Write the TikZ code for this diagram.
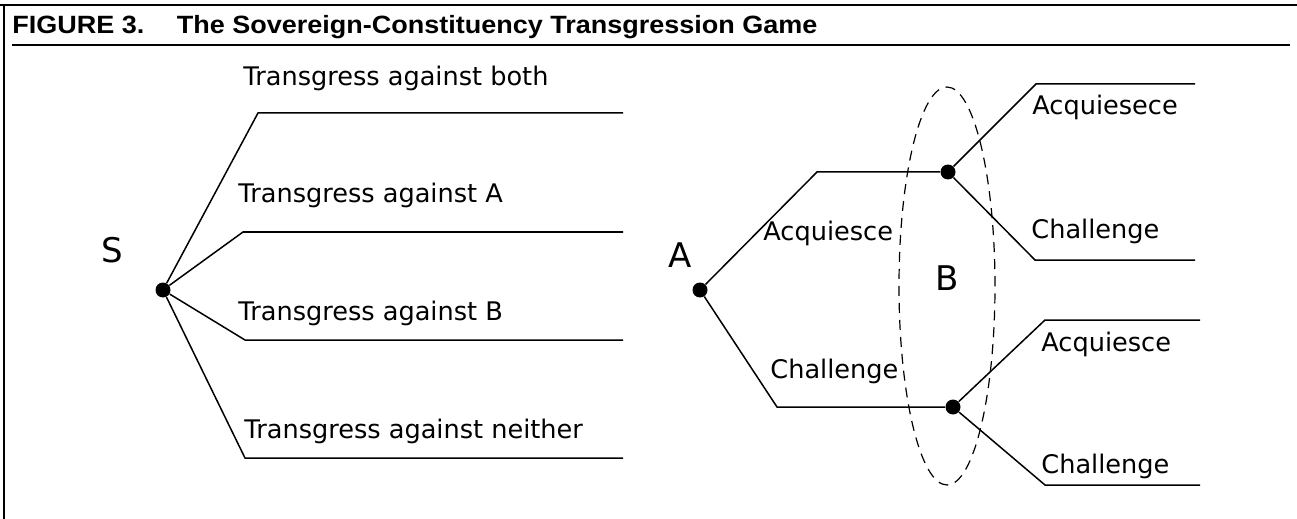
\documentclass[tikz,border=0pt]{standalone}
\usepackage{graphicx}
\usepackage{fontspec}
\setmainfont{DejaVu Sans}
\newfontfamily\headfont{Liberation Sans}
\usetikzlibrary{calc}
\tikzset{
  frame/.style={line width=0.8pt},
  branch/.style={line width=0.75pt},
  dot/.style={circle,fill,inner sep=0pt,minimum size=7.5pt},
  player/.style={inner sep=0pt,font=\fontsize{17}{20}\selectfont},
  move/.style={inner sep=0pt,anchor=base west,font=\fontsize{12.8}{15}\selectfont},
  figtitle/.style={inner sep=0pt,anchor=base west,font=\headfont\bfseries\fontsize{12.5}{14}\selectfont},
  infoset/.style={dash pattern=on 5pt off 3.5pt,line width=0.6pt}
}

\begin{document}
\begin{tikzpicture}[x=0.5pt,y=-0.5pt]
  \useasboundingbox (0,0) rectangle (1297,519);
  \draw[frame] (0,5) -- (1297,5);
  \draw[frame] (4,5) -- (4,519);
  \node[figtitle] (ttl) at (12,34) {\scalebox{1.08}[1]{FIGURE 3.\hspace{1.2em}The Sovereign-Constituency Transgression Game}};
  \draw[frame] (12,45) -- (1290,45);

  \node[dot] (s) at (163,290) {};
  \node[player] (slbl) at (112,250) {S};
  \foreach \cx/\cy/\lx/\ly/\txt [count=\i] in {258/113/243/86/both,243/232/238/203/A,245/340/238/320/B,245/458/244/438/neither} {
    \coordinate (k\i) at (\cx,\cy);
    \coordinate (e\i) at (623,\cy);
    \draw[branch] (s) -- (k\i) -- (e\i);
    \node[move] (t\i) at (\lx,\ly) {Transgress against \txt};
  }

  \node[dot] (a) at (700,290) {};
  \node[player] (albl) at (680,255) {A};
  \node[dot] (b1) at (948,172) {};
  \node[dot] (b2) at (953,407) {};
  \node[player] (blbl) at (947,278) {B};
  \coordinate (ka) at (817,172);
  \coordinate (kc) at (777,407);
  \draw[branch] (a) -- (ka) -- (b1);
  \draw[branch] (a) -- (kc) -- (b2);
  \node[move] (ma) at (763,241) {Acquiesce};
  \node[move] (mc) at (770,378) {Challenge};

  \foreach \b/\ux/\uy/\dx/\dy/\ex/\lu/\ld/\tu in {b1/1036/84/1035/260/1195/115/238/Acquiesece,b2/1045/320/1045/485/1200/351/473/Acquiesce} {
    \coordinate (\b u) at (\ux,\uy);
    \coordinate (\b d) at (\dx,\dy);
    \coordinate (\b ue) at (\ex,\uy);
    \coordinate (\b de) at (\ex,\dy);
    \draw[branch] (\b) -- (\b u) -- (\b ue);
    \draw[branch] (\b) -- (\b d) -- (\b de);
    \node[move] (\b ma) at ($(\b u)+(-4,\lu-\uy)$) {\tu};
    \node[move] (\b mc) at ($(\b d)+(-4,\ld-\dy)$) {Challenge};
  }

  \draw[infoset] (947,286) ellipse [x radius=24pt,y radius=99.5pt];
\end{tikzpicture}
\end{document}
